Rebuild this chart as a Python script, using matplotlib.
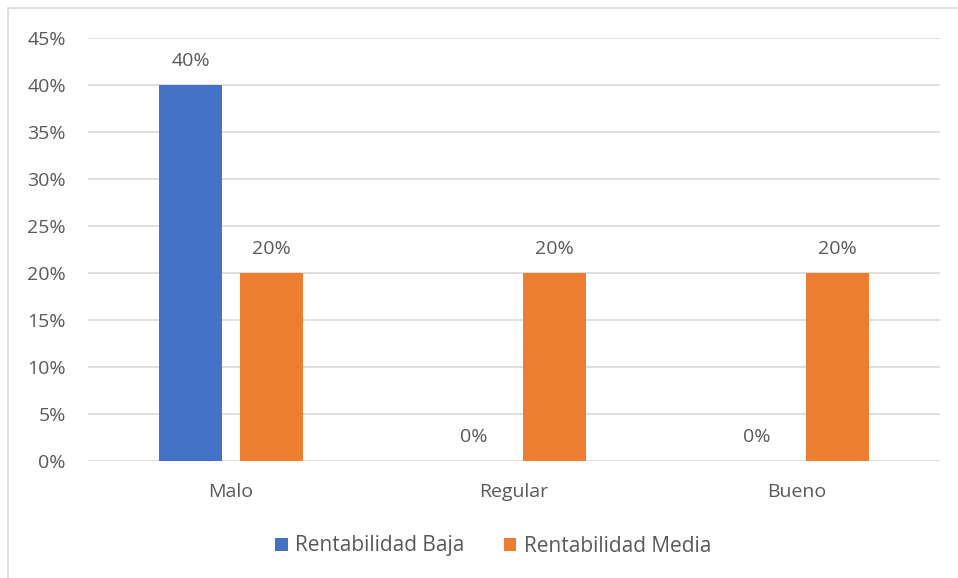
import matplotlib.pyplot as plt
import numpy as np
from matplotlib.patches import Rectangle

categorias = ['Malo', 'Regular', 'Bueno']
series = ['Rentabilidad Baja', 'Rentabilidad Media']
baja = [40, 0, 0]
media = [20, 20, 20]
colores = ['#4472C4', '#ED7D31']
yticks = [0, 5, 10, 15, 20, 25, 30, 35, 40, 45]

texto = '#595959'
plt.rcParams['font.family'] = ['Open Sans', 'DejaVu Sans']
fs = 14

fig = plt.figure(figsize=(9.58, 5.78), dpi=100)
ax = fig.add_axes([88 / 958, 1 - 461 / 578, 852 / 958, 423 / 578])

x = np.arange(len(categorias))
ancho = 0.223
desp = 0.143
b1 = ax.bar(x - desp, baja, ancho, color=colores[0], label=series[0], zorder=3)
b2 = ax.bar(x + desp, media, ancho, color=colores[1], label=series[1], zorder=3)

for barras, valores in ((b1, baja), (b2, media)):
    for rect, v in zip(barras, valores):
        ax.text(rect.get_x() + rect.get_width() / 2, v + 1.6, f'{v}%',
                ha='center', va='bottom', fontsize=fs, color=texto)

ax.set_xlim(-0.505, 2.505)
ax.set_ylim(0, 45)
ax.set_yticks(yticks)
ax.set_yticklabels([f'{t}%' for t in yticks])
ax.set_xticks(x)
ax.set_xticklabels(categorias)
ax.tick_params(axis='both', length=0, labelsize=fs, colors=texto)
ax.tick_params(axis='y', pad=16)
ax.tick_params(axis='x', pad=16)
ax.grid(axis='y', color='#D9D9D9', linewidth=1.2, zorder=0)
for s in ax.spines.values():
    s.set_visible(False)

leg = fig.legend(handles=[b1, b2], loc='center', bbox_to_anchor=(493 / 958, 1 - 546 / 578),
                 ncol=2, frameon=False, fontsize=15, handlelength=0.6,
                 handleheight=0.6, handletextpad=0.35, columnspacing=1.9)
for t in leg.get_texts():
    t.set_color(texto)

# marco exterior del grafico
fig.add_artist(Rectangle((8 / 958, -0.01), 1.0, 1 - 8 / 578 + 0.01,
                         transform=fig.transFigure, fill=False,
                         edgecolor='#D9D9D9', linewidth=1.2))

fig.savefig('out.png', dpi=100)
